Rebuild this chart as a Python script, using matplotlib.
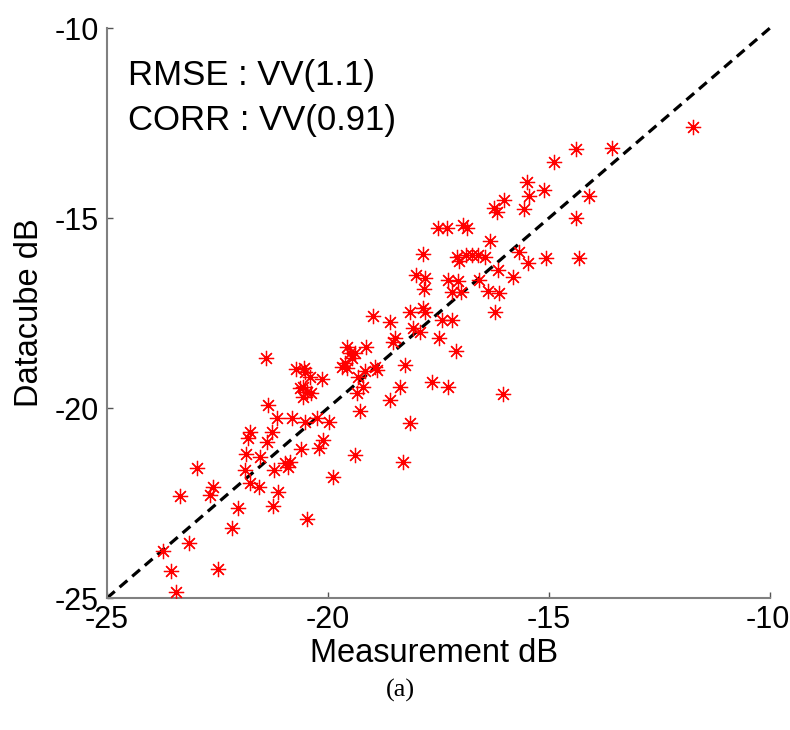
import numpy as np
import matplotlib.pyplot as plt
import matplotlib.transforms as mtransforms

# --- Data (dB) ---
measurement = [
    -21.41, -21.35, -21.16, -21.76, -21.80, -21.27, -21.39, -21.86, -21.54, -21.88,
    -21.22, -22.97, -21.76, -21.55, -21.12, -22.60, -22.67, -23.35, -22.04, -21.24,
    -22.18, -23.14, -23.73, -23.56, -22.48, -23.44,
    -18.98, -18.60, -18.48, -18.52, -19.58, -19.15, -19.50, -19.39, -19.46, -19.62,
    -19.69, -19.57, -19.16, -18.94, -18.90, -19.31, -20.72, -20.54, -20.52, -20.41,
    -20.14, -20.63, -20.56, -20.48, -20.39, -20.56, -19.20, -19.35, -18.60, -19.28,
    -20.82, -20.52, -20.26, -19.97, -20.11, -20.20, -20.62, -19.39, -20.97, -20.86,
    -20.90, -19.88, -20.48, -18.14, -18.30,
    -11.74, -13.58, -14.40, -14.89, -15.50, -15.11, -15.45, -14.09, -16.01, -16.24,
    -16.18, -15.57, -14.40, -17.52, -17.31, -16.94, -16.86, -16.33, -17.84, -17.09,
    -17.04, -16.88, -16.74, -16.61, -16.45, -15.69, -15.47, -15.07, -14.32, -16.15,
    -18.02, -17.81, -17.28, -17.05, -17.83, -16.58, -15.81, -17.20, -16.98, -16.39,
    -16.12, -18.14, -17.84, -17.81, -17.43, -17.20, -18.07, -17.92, -17.50, -16.22,
    -17.11, -18.26, -17.64, -17.28, -16.03, -18.37,
]
datacube = [
    -18.68, -19.92, -20.27, -20.62, -20.80, -20.62, -20.89, -21.22, -21.28, -21.63,
    -21.63, -21.59, -21.98, -22.07, -22.20, -22.07, -22.29, -22.31, -22.62, -22.58,
    -23.17, -23.56, -23.76, -24.28, -24.24, -24.85,
    -17.58, -17.73, -18.17, -18.26, -18.39, -18.39, -18.54, -18.56, -18.69, -18.82,
    -18.91, -18.95, -19.02, -18.91, -19.00, -19.18, -18.97, -18.94, -19.05, -19.18,
    -19.24, -19.48, -19.44, -19.57, -19.61, -19.70, -19.44, -19.61, -19.79, -20.08,
    -20.27, -20.36, -20.27, -20.36, -20.84, -21.06, -21.08, -21.24, -21.46, -21.41,
    -21.55, -21.81, -22.92, -20.40, -21.41,
    -12.60, -13.15, -13.19, -13.52, -14.04, -14.26, -14.42, -14.42, -14.53, -14.73,
    -14.83, -14.76, -15.01, -15.27, -15.27, -15.18, -15.27, -15.61, -15.96, -16.02,
    -16.13, -15.97, -15.97, -15.97, -16.03, -15.89, -16.18, -16.06, -16.04, -16.37,
    -16.50, -16.59, -16.63, -16.66, -16.88, -16.63, -16.54, -16.94, -16.94, -16.92,
    -16.97, -17.47, -17.38, -17.47, -17.68, -17.68, -17.90, -17.99, -18.17, -17.47,
    -18.49, -18.87, -19.31, -19.44, -19.64, -19.44,
]
axis_range = [-25, -10]
ticks = [-25, -20, -15, -10]
stats_text = ["RMSE : VV(1.1)", "CORR : VV(0.91)"]

plt.rcParams['font.family'] = ['Liberation Sans', 'DejaVu Sans']
plt.rcParams['axes.unicode_minus'] = False

fig = plt.figure(figsize=(7.9, 7.3), dpi=100)
ax = fig.add_axes([107 / 790, 1 - 598 / 730, 663 / 790, 570 / 730])

# 1:1 reference line
ax.plot(axis_range, axis_range, color='black', lw=2.3, linestyle=(0, (3.2, 2.0)),
        zorder=2, clip_on=False)

# asterisk markers, like MATLAB '*'
ax.plot(measurement, datacube, linestyle='none', marker=(8, 2, 0), markersize=11,
        markeredgewidth=0.9, color='red', zorder=3)

ax.set_xlim(axis_range)
ax.set_ylim(axis_range)
ax.set_xticks(ticks)
ax.set_yticks(ticks)
ax.tick_params(direction='in', length=4, width=1, colors='#555555',
               labelcolor='black', labelsize=22)
ax.tick_params(axis='x', pad=5)
ax.tick_params(axis='y', pad=6)

# last x tick label sits against the right edge, as in the reference
last = ax.get_xticklabels()[-1]
last.set_horizontalalignment('right')
last.set_transform(last.get_transform() +
                   mtransforms.ScaledTranslation(20 / 100, 0, fig.dpi_scale_trans))

for side in ['top', 'right']:
    ax.spines[side].set_visible(False)
for side in ['left', 'bottom']:
    ax.spines[side].set_color('#808080')
    ax.spines[side].set_linewidth(1.5)

ax.set_xlabel('Measurement dB', fontsize=23.5)
ax.xaxis.set_label_coords((434 - 107) / 663, -(654 - 598) / 570)
ax.xaxis.label.set_va('center')
ax.set_ylabel('Datacube dB', fontsize=23.5)
ax.yaxis.set_label_coords(-(107 - 30) / 663, 0.5)
ax.yaxis.label.set_va('center')

ax.text(0.032, 0.916, stats_text[0], transform=ax.transAxes, fontsize=25, va='center')
ax.text(0.032, 0.837, stats_text[1], transform=ax.transAxes, fontsize=25, va='center')

fig.text(0.507, 1 - 690 / 730, '(a)', ha='center', va='center', fontsize=19,
         family='Liberation Serif')

fig.savefig('out.png', dpi=100)
